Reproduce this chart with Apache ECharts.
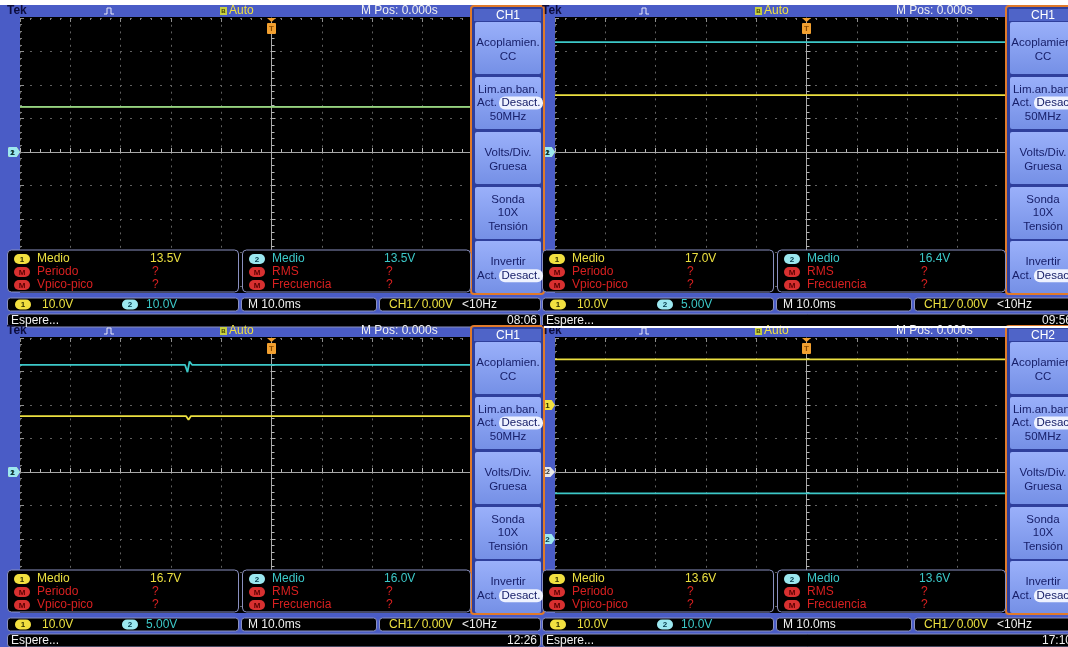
<!DOCTYPE html>
<html><head><meta charset="utf-8">
<script src="https://cdn.jsdelivr.net/npm/echarts@6/dist/echarts.min.js"></script>
<style>html,body{margin:0;padding:0;background:#fff}#c{width:1068px;height:647px}</style>
</head><body><div id="c"></div><script>
// ---------- data ----------
const timeMin = -50, timeMax = 50, timeStep = 10;           // ms (M 10.0ms per div)
const divMin = -4, divMax = 4;                               // vertical divisions
const menuTitles = ['CH1', 'CH1', 'CH1', 'CH2'];
const clockTimes = ['08:06', '09:56', '12:26', '17:10'];
const ch1Scale = [10, 10, 10, 10];                           // V/div
const ch2Scale = [10, 5, 5, 10];
const ch1Offset = [0, 0, 0, 2];                              // ground marker, div
const ch2Offset = [0, 0, 0, -2];
const ch1Mean = [13.5, 17.0, 16.7, 13.6];                    // "Medio" readouts, V
const ch2Mean = [13.5, 16.4, 16.0, 13.6];
// traces [ms, V]
const p1Ch1 = [[-50, 13.5], [50, 13.5]];
const p1Ch2 = [[-50, 13.5], [50, 13.5]];
const p2Ch1 = [[-50, 17.0], [50, 17.0]];
const p2Ch2 = [[-50, 16.4], [50, 16.4]];
const p3Ch1 = [[-50, 16.7], [-17.0, 16.7], [-16.5, 15.6], [-16.0, 16.7], [50, 16.7]];
const p3Ch2 = [[-50, 16.0], [-17.2, 16.0], [-16.7, 14.9], [-16.3, 16.5], [-15.8, 16.0], [50, 16.0]];
const p4Ch1 = [[-50, 13.6], [50, 13.6]];
const p4Ch2 = [[-50, 13.6], [50, 13.6]];
const ch1Traces = [p1Ch1, p2Ch1, p3Ch1, p4Ch1];
const ch2Traces = [p1Ch2, p2Ch2, p3Ch2, p4Ch2];
const menuButtons = [
  ['Acoplamien.', 'CC'],
  ['Lim.an.ban.', 'Act.|Desact.', '50MHz'],
  ['Volts/Div.', 'Gruesa'],
  ['Sonda', '10X', 'Tensión'],
  ['Invertir', 'Act.|Desact.']
];
const meas1Labels = ['Medio', 'Periodo', 'Vpico-pico'];
const meas2Labels = ['Medio', 'RMS', 'Frecuencia'];

// ---------- layout / style ----------
const FONT = '"Liberation Sans", Arial, sans-serif';
const DX = 535, DY = 320;
const origins = [[0, 0], [DX, 0], [0, DY], [DX, DY]];
const YEL = '#ece040', CYN = '#3cc8c8', RED = '#d82020';
const fmtScale = v => (v >= 10 ? v.toFixed(1) : v.toFixed(2)) + 'V';

function T(x, y, text, fill, size, o) {
  o = o || {};
  return {type: 'text', silent: true, z: o.z != null ? o.z : 60,
    style: {x: x, y: y, text: text, fill: fill, fontSize: size, fontFamily: FONT,
      fontWeight: o.bold ? 'bold' : 'normal', align: o.align || 'left', verticalAlign: 'middle',
      textAlign: o.align || 'left', textVerticalAlign: 'middle'}};
}
function R(x, y, w, h, fill, o) {
  o = o || {};
  return {type: 'rect', silent: true, z: o.z != null ? o.z : 50,
    shape: {x: x, y: y, width: w, height: h, r: o.r || 0},
    style: {fill: fill, stroke: o.stroke || null, lineWidth: o.lw || 1}};
}
function badge(x, y, label, fill, color) {
  return [R(x, y - 5, 16, 10, fill, {r: 5, z: 62}), T(x + 8, y + 0.5, label, color, 8, {align: 'center', bold: true, z: 63})];
}
const btnFill = {type: 'linear', x: 0, y: 0, x2: 0, y2: 1,
  colorStops: [{offset: 0, color: '#9ab0fa'}, {offset: 1, color: '#7590e6'}]};

const graphics = [];
graphics.push(R(0, 0, 1068, 647, '#ffffff', {z: -20}));
graphics.push(R(0, 5, 1068, 642, '#4a5cc6', {z: -19}));

const grids = [], xAxes = [], yAxes = [], series = [];

function markerTag(label, fill, color, w) {
  return {
    symbol: 'path://M2,0 L10,0 L14,5 L10,10 L2,10 Q0,10 0,8 L0,2 Q0,0 2,0 Z',
    symbolSize: [w, 10], symbolOffset: [-(w / 2), 0],
    itemStyle: {color: fill},
    label: {show: true, formatter: label, color: color, fontSize: 8, fontWeight: 'bold', offset: [-1.5, 0.5]}
  };
}

for (let p = 0; p < 4; p++) {
  const ox = origins[p][0], oy = origins[p][1];
  // plot black
  graphics.push(R(ox + 20, oy + 17, 452, 276, '#000000', {z: -5}));
  grids.push({left: ox + 20, top: oy + 18, width: 503, height: 268});

  const tickCol = '#b8b8b8';
  xAxes.push({type: 'value', gridIndex: p, min: timeMin, max: timeMax, interval: timeStep, position: 'bottom',
    axisLine: {show: true, onZero: true, onZeroAxisIndex: 4 * p, lineStyle: {color: '#a8a8a8', width: 1}},
    axisTick: {show: true, inside: true, length: 4, lineStyle: {color: tickCol}},
    minorTick: {show: true, splitNumber: 5, length: 3, lineStyle: {color: tickCol}},
    axisLabel: {show: false},
    splitLine: {show: true, lineStyle: {color: '#606060', width: 1, type: [2, 4.7]}}});
  xAxes.push({type: 'value', gridIndex: p, min: timeMin, max: timeMax, interval: timeStep, position: 'top',
    axisLine: {show: false, onZero: false},
    axisTick: {show: true, inside: true, length: 4, lineStyle: {color: '#909090'}},
    minorTick: {show: true, splitNumber: 5, length: 2, lineStyle: {color: '#808080'}},
    axisLabel: {show: false}, splitLine: {show: false}});
  yAxes.push({type: 'value', gridIndex: p, min: divMin, max: divMax, interval: 1, position: 'left',
    axisLine: {show: true, onZero: true, onZeroAxisIndex: 2 * p, lineStyle: {color: '#a8a8a8', width: 1}},
    axisTick: {show: true, inside: true, length: 4, lineStyle: {color: tickCol}},
    minorTick: {show: true, splitNumber: 5, length: 3, lineStyle: {color: tickCol}},
    axisLabel: {show: false},
    splitLine: {show: true, lineStyle: {color: '#606060', width: 1, type: [2, 8]}}});
  yAxes.push({type: 'value', gridIndex: p, min: divMin, max: divMax, interval: 1, position: 'left',
    axisLine: {show: false, onZero: false},
    axisTick: {show: true, inside: true, length: 4, lineStyle: {color: '#909090'}},
    minorTick: {show: true, splitNumber: 5, length: 2, lineStyle: {color: '#808080'}},
    axisLabel: {show: false}, splitLine: {show: false}});
  yAxes.push({type: 'value', gridIndex: p, show: false,
    min: (divMin - ch1Offset[p]) * ch1Scale[p], max: (divMax - ch1Offset[p]) * ch1Scale[p]});
  yAxes.push({type: 'value', gridIndex: p, show: false,
    min: (divMin - ch2Offset[p]) * ch2Scale[p], max: (divMax - ch2Offset[p]) * ch2Scale[p]});

  const overlap = ch1Offset[p] === ch2Offset[p] && Math.abs(ch1Mean[p] / ch1Scale[p] - ch2Mean[p] / ch2Scale[p]) < 0.05;
  series.push({type: 'line', name: 'CH1', xAxisIndex: 2 * p, yAxisIndex: 4 * p + 2, data: ch1Traces[p],
    showSymbol: false, animation: false, z: 3, lineStyle: {color: YEL, width: 1.8},
    markPoint: Object.assign(markerTag('1', '#f2e040', '#303000', 12), {data: [{coord: [timeMin, 0]}], animation: false})});
  series.push({type: 'line', name: 'CH2', xAxisIndex: 2 * p, yAxisIndex: 4 * p + 3, data: ch2Traces[p],
    showSymbol: false, animation: false, z: 4, lineStyle: {color: CYN, width: 1.8, opacity: overlap ? 0.5 : 1},
    markPoint: Object.assign(markerTag('2', '#9ce8f0', '#003848', 12), {data: [{coord: [timeMin, 0]}], animation: false})});
  const frameMarks = [{coord: [0, divMax], symbol: 'path://M0,0 L9,0 L4.5,4 Z M1,5 L8,5 Q9,5 9,6 L9,15 Q9,16 8,16 L1,16 Q0,16 0,15 L0,6 Q0,5 1,5 Z',
    symbolSize: [9, 16], symbolOffset: [0, 8], itemStyle: {color: '#f2a030'},
    label: {show: true, formatter: 'T', color: '#8a4a00', fontSize: 8, fontWeight: 'bold', offset: [0, 3]}}];
  if (p === 3) {
    const r = markerTag('R2', '#e8e8e8', '#303030', 16);
    frameMarks.push({coord: [timeMin, 0], symbol: r.symbol, symbolSize: r.symbolSize, symbolOffset: r.symbolOffset,
      itemStyle: r.itemStyle, label: Object.assign({}, r.label, {fontSize: 7})});
  }
  series.push({type: 'line', name: 'frame', xAxisIndex: 2 * p, yAxisIndex: 4 * p, data: [[0, 0]],
    showSymbol: false, animation: false, z: 5, lineStyle: {width: 0, opacity: 0},
    markPoint: {data: frameMarks, animation: false}});

  // ---- top strip ----
  graphics.push(T(ox + 7, oy + 11, 'Tek', '#0c0c3c', 12, {bold: true}));
  graphics.push({type: 'polyline', silent: true, z: 60,
    shape: {points: [[ox + 104, oy + 14], [ox + 107, oy + 14], [ox + 107, oy + 8], [ox + 111, oy + 8], [ox + 111, oy + 14], [ox + 114, oy + 14]]},
    style: {stroke: '#e8e8f8', lineWidth: 1, fill: null}});
  graphics.push(R(ox + 220, oy + 7, 7, 8, '#c8d040', {z: 60}));
  graphics.push(T(ox + 223.5, oy + 11.5, 'B', '#404000', 6, {align: 'center', bold: true, z: 61}));
  graphics.push(T(ox + 229, oy + 11, 'Auto', '#f0e040', 12));
  graphics.push(T(ox + 361, oy + 11, 'M Pos: 0.000s', '#f0f0f0', 12));

  // ---- side menu ----
  graphics.push(R(ox + 471, oy + 6, 73, 288, '#2f3f9c', {z: 50, stroke: '#e07a2a', lw: 2, r: 3}));
  graphics.push(R(ox + 474, oy + 9, 67, 12, '#4f64c8', {z: 51}));
  graphics.push(T(ox + 508, oy + 15.5, menuTitles[p], '#ffffff', 12, {align: 'center', z: 52}));
  const btnTop = [22, 77, 132, 187, 241];
  menuButtons.forEach((lines, i) => {
    const top = oy + btnTop[i];
    graphics.push(R(ox + 475, top, 66, 52, btnFill, {z: 51, r: 2}));
    const n = lines.length, cy = top + 26 + (n === 2 ? 2 : 0);
    lines.forEach((ln, k) => {
      const y = cy + (k - (n - 1) / 2) * 13.5;
      if (ln.indexOf('|') >= 0) {
        const parts = ln.split('|');
        graphics.push(T(ox + 487, y, parts[0], '#18206a', 11.5, {align: 'center', z: 53}));
        graphics.push(R(ox + 499, y - 6.5, 44, 13, '#eef2ff', {z: 52, r: 6}));
        graphics.push(T(ox + 521, y, parts[1], '#18206a', 11.5, {align: 'center', z: 53}));
      } else {
        graphics.push(T(ox + 508, y, ln, '#18206a', 11.5, {align: 'center', z: 53}));
      }
    });
  });

  // ---- measurement boxes ----
  graphics.push(R(ox + 7.5, oy + 250, 231, 42, '#000', {z: 50, stroke: '#8a90c0', r: 4}));
  graphics.push(R(ox + 242.5, oy + 250, 228, 42, '#000', {z: 50, stroke: '#8a90c0', r: 4}));
  const rowY = [259, 272, 285];
  rowY.forEach((ry, i) => {
    const y = oy + ry;
    if (i === 0) {
      graphics.push(...badge(ox + 14, y, '1', '#f2e040', '#303000'));
      graphics.push(T(ox + 37, y, meas1Labels[i], YEL, 12));
      graphics.push(T(ox + 150, y, ch1Mean[p].toFixed(1) + 'V', YEL, 12));
      graphics.push(...badge(ox + 249, y, '2', '#9ce8f0', '#003848'));
      graphics.push(T(ox + 272, y, meas2Labels[i], CYN, 12));
      graphics.push(T(ox + 384, y, ch2Mean[p].toFixed(1) + 'V', CYN, 12));
    } else {
      graphics.push(...badge(ox + 14, y, 'M', '#d83030', '#5a0000'));
      graphics.push(T(ox + 37, y, meas1Labels[i], RED, 12));
      graphics.push(T(ox + 152, y, '?', RED, 12));
      graphics.push(...badge(ox + 249, y, 'M', '#d83030', '#5a0000'));
      graphics.push(T(ox + 272, y, meas2Labels[i], RED, 12));
      graphics.push(T(ox + 386, y, '?', RED, 12));
    }
  });

  // ---- status row ----
  const sy = oy + 304.5;
  graphics.push(R(ox + 7.5, oy + 298, 231, 13, '#000', {z: 50, stroke: '#8a90c0', r: 3}));
  graphics.push(R(ox + 241.5, oy + 298, 135, 13, '#000', {z: 50, stroke: '#8a90c0', r: 3}));
  graphics.push(R(ox + 379.5, oy + 298, 161, 13, '#000', {z: 50, stroke: '#8a90c0', r: 3}));
  graphics.push(...badge(ox + 15, sy, '1', '#f2e040', '#303000'));
  graphics.push(T(ox + 42, sy, fmtScale(ch1Scale[p]), YEL, 12));
  graphics.push(...badge(ox + 122, sy, '2', '#9ce8f0', '#003848'));
  graphics.push(T(ox + 146, sy, fmtScale(ch2Scale[p]), CYN, 12));
  graphics.push(T(ox + 248, sy, 'M 10.0ms', '#f0f0f0', 12));
  graphics.push(T(ox + 389, sy, 'CH1 ⁄ 0.00V', YEL, 12));
  graphics.push(T(ox + 462, sy, '<10Hz', '#f0f0f0', 12));

  // ---- bottom row ----
  graphics.push(R(ox + 7.5, oy + 314, 533, 13, '#000', {z: 50, stroke: '#8a90c0', r: 3}));
  graphics.push(T(ox + 11, oy + 320.5, 'Espere...', '#f0f0f0', 12));
  graphics.push(T(ox + 537, oy + 320.5, clockTimes[p], '#f0f0f0', 12, {align: 'right'}));
}
graphics.push(R(544, 326, 524, 2, '#ffffff', {z: 70}));

const chart = echarts.init(document.getElementById('c'), null, {renderer: 'canvas'});
chart.setOption({
  animation: false,
  backgroundColor: '#ffffff',
  grid: grids,
  xAxis: xAxes,
  yAxis: yAxes,
  series: series,
  graphic: graphics
});
</script></body></html>
